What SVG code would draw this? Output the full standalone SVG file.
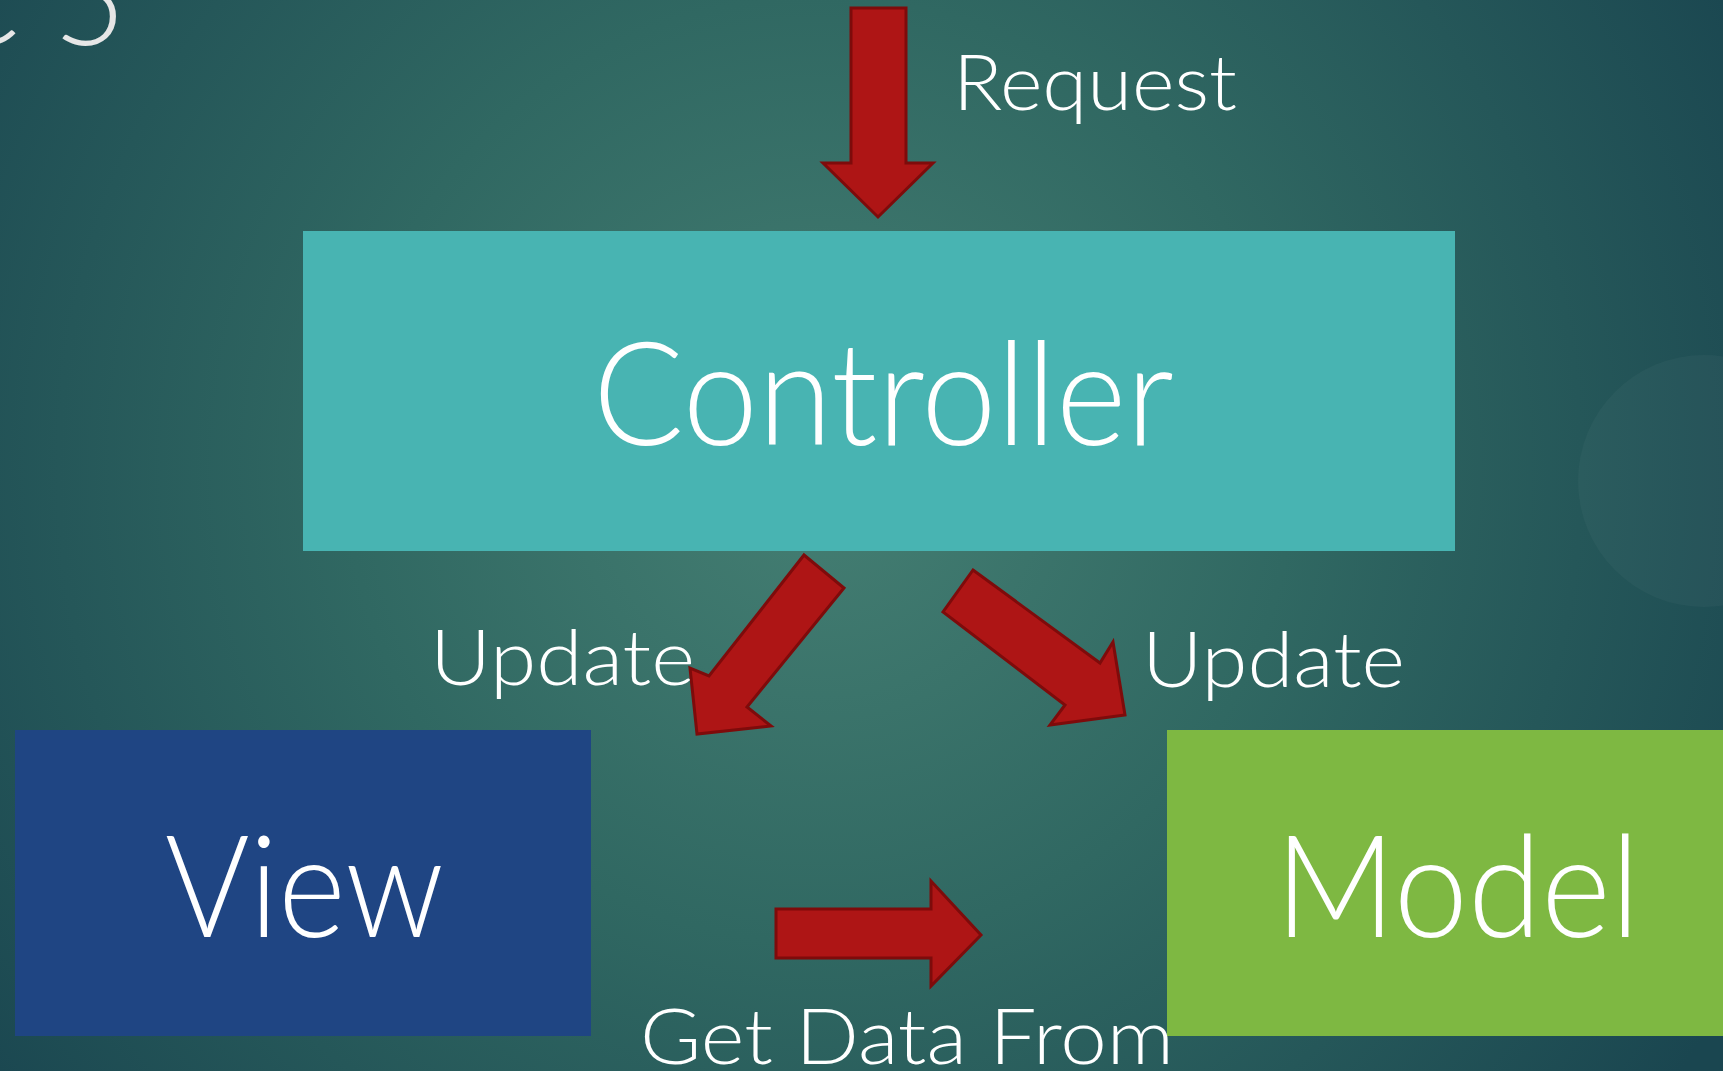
<svg xmlns="http://www.w3.org/2000/svg" width="1723" height="1071" viewBox="0 0 1723 1071">
<defs>
<radialGradient id="bg" cx="820" cy="470" r="1050" gradientUnits="userSpaceOnUse">
<stop offset="0" stop-color="#457f73"/>
<stop offset="0.45" stop-color="#306862"/>
<stop offset="1" stop-color="#1a4650"/>
</radialGradient>
<style>
.arrow{fill:#ae1515;stroke:#7e0b0b;stroke-width:3;stroke-linejoin:miter}
.lbl{font-family:Lato,"Liberation Sans",sans-serif;font-weight:300;fill:#ffffff;font-size:76px}
.big{font-family:Lato,"Liberation Sans",sans-serif;font-weight:300;fill:#ffffff}
</style>
</defs>
<rect width="1723" height="1071" fill="url(#bg)"/>
<circle cx="1704" cy="481" r="126" fill="#ffffff" fill-opacity="0.03"/>
<text x="126" y="45" text-anchor="end" font-family="Lato, 'Liberation Sans', sans-serif" font-weight="300" font-size="125" fill="#e6e6e6">C 5</text>

<g id="controller">
<rect x="303" y="231" width="1152" height="320" fill="#48b4b2"/>
<text x="593" y="445" class="big" font-size="145" textLength="581" lengthAdjust="spacingAndGlyphs">Controller</text>
</g>
<g id="view">
<rect x="15" y="730" width="576" height="306" fill="#1f4583"/>
<text x="165" y="937" class="big" font-size="142" textLength="279" lengthAdjust="spacingAndGlyphs">View</text>
</g>
<g id="model">
<rect x="1167" y="730" width="556" height="306" fill="#7eb842"/>
<text x="1275" y="937" class="big" font-size="142" textLength="365" lengthAdjust="spacingAndGlyphs">Model</text>
</g>

<g id="connectors">
<polygon class="arrow" points="851,8 906,8 906,163 933,163 878,217 823,163 851,163"/>
<polygon class="arrow" points="804,555 844,588 747,707 771,726 697,734 690,668 709,676"/>
<polygon class="arrow" points="973,570 1100,663 1113,642 1125,715 1050,725 1065,705 943,612"/>
<polygon class="arrow" points="776,909 931,909 931,881 981,935 931,986 931,958 776,958"/>
<text x="953" y="110" class="lbl" textLength="284" lengthAdjust="spacingAndGlyphs">Request</text>
<text x="430" y="685" class="lbl" textLength="265" lengthAdjust="spacingAndGlyphs">Update</text>
<text x="1142" y="687" class="lbl" textLength="263" lengthAdjust="spacingAndGlyphs">Update</text>
<text x="640" y="1064" class="lbl" textLength="534" lengthAdjust="spacingAndGlyphs">Get Data From</text>
</g>
</svg>
